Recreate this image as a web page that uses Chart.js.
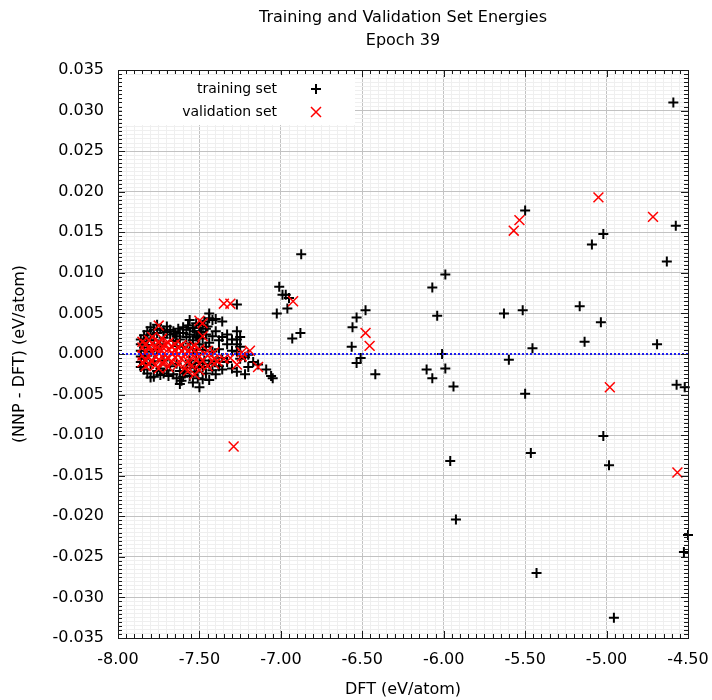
<!DOCTYPE html>
<html>
<head>
<meta charset="utf-8">
<script src="https://cdn.jsdelivr.net/npm/chart.js@4/dist/chart.umd.min.js"></script>
<style>
  html, body { margin: 0; padding: 0; background: #fff; }
  #wrap { width: 712px; height: 700px; position: relative; }
</style>
</head>
<body>
<div id="wrap"><canvas id="chart"></canvas></div>
<script>
// DFT energy vs. NNP error, both eV/atom
const trainOutliers = [
  [-4.59, 0.0310], [-5.50, 0.0177], [-4.575, 0.0158], [-5.02, 0.0148], [-5.09, 0.0135],
  [-4.63, 0.0114], [-5.99, 0.0098], [-6.07, 0.0082], [-6.04, 0.0047], [-5.63, 0.0050],
  [-5.515, 0.0054], [-5.165, 0.0059], [-5.035, 0.0039], [-5.455, 0.0007], [-5.135, 0.0015],
  [-4.69, 0.0012], [-6.01, 0.0000], [-6.105, -0.0019], [-5.99, -0.0018], [-6.07, -0.0030],
  [-5.60, -0.0007], [-5.94, -0.0040], [-5.50, -0.0049], [-4.57, -0.0038], [-4.52, -0.0041],
  [-5.02, -0.0101], [-5.465, -0.0122], [-5.96, -0.0132], [-4.985, -0.0137], [-5.925, -0.0204],
  [-4.50, -0.0223], [-4.525, -0.0244], [-5.43, -0.0270], [-4.955, -0.0325],
  [-6.875, 0.0123], [-7.01, 0.0083], [-6.99, 0.0073], [-6.97, 0.0073], [-6.95, 0.0069],
  [-6.96, 0.0056], [-7.025, 0.0050], [-6.88, 0.0026], [-6.93, 0.0019],
  [-6.48, 0.0054], [-6.535, 0.0045], [-6.56, 0.0033], [-6.565, 0.0009], [-6.51, -0.0005],
  [-6.535, -0.0011], [-6.42, -0.0025]
];

const trainCluster = [
  [-7.86, 0.0012], [-7.86, 0.0004], [-7.86, -0.0003], [-7.86, -0.0010], [-7.86, 0.0018], [-7.86, -0.0016],
  [-7.84, 0.0023], [-7.84, 0.0008], [-7.84, -0.0006], [-7.84, -0.0019], [-7.84, 0.0015], [-7.84, -0.0012],
  [-7.82, 0.0028], [-7.82, 0.0011], [-7.82, -0.0002], [-7.82, -0.0024], [-7.82, 0.0019],
  [-7.80, 0.0033], [-7.80, 0.0003], [-7.80, -0.0013], [-7.80, 0.0024], [-7.80, -0.0029],
  [-7.78, 0.0030], [-7.78, -0.0028], [-7.78, 0.0017], [-7.78, -0.0009],
  [-7.76, 0.0026], [-7.76, -0.0021], [-7.76, 0.0006], [-7.76, 0.0036],
  [-7.74, 0.0031], [-7.74, -0.0018], [-7.74, 0.0012], [-7.74, -0.0026],
  [-7.72, 0.0029], [-7.72, -0.0024], [-7.72, 0.0020], [-7.72, -0.0008],
  [-7.70, 0.0027], [-7.70, -0.0020], [-7.70, 0.0034],
  [-7.68, 0.0024], [-7.68, -0.0015], [-7.68, 0.0030],
  [-7.66, 0.0028], [-7.66, -0.0025], [-7.66, 0.0016],
  [-7.64, 0.0022], [-7.64, -0.0030], [-7.64, 0.0010], [-7.64, -0.0012],
  [-7.62, 0.0026], [-7.62, -0.0037], [-7.62, 0.0018], [-7.62, -0.0021],
  [-7.60, 0.0026], [-7.60, -0.0028], [-7.60, 0.0009], [-7.60, 0.0033],
  [-7.58, 0.0021], [-7.58, -0.0017], [-7.58, 0.0030],
  [-7.56, 0.0042], [-7.56, -0.0027], [-7.56, 0.0013], [-7.56, -0.0008], [-7.56, 0.0024],
  [-7.54, 0.0017], [-7.54, -0.0035], [-7.54, 0.0006], [-7.54, 0.0032],
  [-7.52, 0.0038], [-7.52, -0.0022], [-7.52, 0.0022], [-7.52, 0.0001],
  [-7.50, 0.0028], [-7.50, -0.0041], [-7.50, 0.0012], [-7.50, -0.0011], [-7.50, 0.0035],
  [-7.48, 0.0036], [-7.48, -0.0031], [-7.48, 0.0019], [-7.48, 0.0005], [-7.48, -0.0016],
  [-7.46, 0.0031], [-7.46, -0.0024], [-7.46, 0.0009], [-7.46, 0.0024],
  [-7.44, 0.0050], [-7.44, -0.0032], [-7.44, 0.0044], [-7.44, 0.0014], [-7.44, -0.0012],
  [-7.42, 0.0042], [-7.42, 0.0022], [-7.42, -0.0020], [-7.42, 0.0003],
  [-7.40, 0.0043], [-7.40, 0.0028], [-7.40, -0.0009], [-7.40, -0.0025],
  [-7.38, 0.0017], [-7.38, -0.0015], [-7.38, 0.0006],
  [-7.36, 0.0040], [-7.36, 0.0021], [-7.36, -0.0005], [-7.36, -0.0019],
  [-7.33, 0.0024], [-7.33, 0.0012], [-7.33, -0.0010],
  [-7.30, 0.0018], [-7.30, 0.0004], [-7.30, -0.0018],
  [-7.27, 0.0061], [-7.27, 0.0028], [-7.27, 0.0018], [-7.27, 0.0012], [-7.27, 0.0003], [-7.27, -0.0022],
  [-7.25, 0.0021], [-7.25, -0.0006], [-7.25, 0.0009],
  [-7.22, -0.0025], [-7.22, -0.0004], [-7.20, -0.0016], [-7.20, -0.0001],
  [-7.17, -0.0010], [-7.14, -0.0013], [-7.09, -0.0019], [-7.06, -0.0027], [-7.05, -0.0030],
  [-7.57, 0.0035], [-7.53, 0.0028], [-7.51, 0.0020], [-7.49, 0.0027], [-7.47, 0.0040],
  [-7.55, -0.0013], [-7.51, -0.0030], [-7.47, -0.0008], [-7.63, 0.0031], [-7.59, -0.0024],
  [-7.69, -0.0027], [-7.65, 0.0025], [-7.61, -0.0033], [-7.53, -0.0017], [-7.45, 0.0034]
];

const validOutliers = [
  [-5.05, 0.0193], [-4.715, 0.0169], [-5.535, 0.0165], [-5.57, 0.0152], [-4.98, -0.0041],
  [-4.565, -0.0146], [-6.925, 0.0065], [-6.48, 0.0026], [-6.455, 0.0010], [-7.29, -0.0114],
  [-7.35, 0.0062], [-7.31, 0.0062]
];

const validCluster = [
  [-7.85, 0.0008], [-7.85, -0.0002], [-7.85, -0.0010], [-7.85, 0.0015],
  [-7.83, 0.0003], [-7.83, -0.0008], [-7.83, 0.0012], [-7.83, -0.0015],
  [-7.81, 0.0009], [-7.81, -0.0004], [-7.81, 0.0017], [-7.81, -0.0012],
  [-7.79, 0.0002], [-7.79, -0.0009], [-7.79, 0.0013], [-7.79, 0.0021],
  [-7.77, 0.0006], [-7.77, -0.0003], [-7.77, -0.0014], [-7.77, 0.0010],
  [-7.75, 0.0035], [-7.75, 0.0001], [-7.75, -0.0007], [-7.75, 0.0015], [-7.75, -0.0018],
  [-7.73, 0.0004], [-7.73, -0.0011], [-7.73, 0.0009], [-7.73, 0.0019],
  [-7.71, -0.0002], [-7.71, 0.0012], [-7.71, -0.0009],
  [-7.69, 0.0006], [-7.69, -0.0005], [-7.69, 0.0014], [-7.69, -0.0016],
  [-7.67, 0.0001], [-7.67, 0.0009], [-7.67, -0.0010],
  [-7.65, 0.0005], [-7.65, -0.0004], [-7.65, 0.0012],
  [-7.63, -0.0001], [-7.63, 0.0008], [-7.63, -0.0013],
  [-7.61, 0.0004], [-7.61, -0.0006], [-7.61, 0.0011],
  [-7.59, 0.0000], [-7.59, -0.0018], [-7.59, 0.0007],
  [-7.57, -0.0021], [-7.57, 0.0003], [-7.57, -0.0009],
  [-7.55, 0.0001], [-7.55, -0.0014], [-7.55, 0.0008],
  [-7.53, -0.0004], [-7.53, -0.0025], [-7.53, 0.0010],
  [-7.50, 0.0041], [-7.50, -0.0003], [-7.50, -0.0012], [-7.50, 0.0006], [-7.50, -0.0020],
  [-7.48, 0.0038], [-7.48, 0.0022], [-7.48, -0.0008],
  [-7.45, -0.0002], [-7.45, -0.0015], [-7.45, 0.0004],
  [-7.41, -0.0006], [-7.41, -0.0012], [-7.41, 0.0002], [-7.39, -0.0009],
  [-7.35, -0.0006], [-7.31, -0.0005], [-7.27, -0.0013],
  [-7.24, -0.0003], [-7.24, 0.0002], [-7.19, 0.0004], [-7.14, -0.0016]
];

const zeroLine = [[-8, 0], [-4.5, 0]];

const xMajor = 0.5, xMinor = 0.05;
const yMajor = 0.005, yMinor = 0.0005;
const FONT = '"DejaVu Sans", sans-serif';

function isMajor(v, step) {
  const r = v / step;
  return Math.abs(r - Math.round(r)) < 1e-6;
}
const toXY = arr => arr.map(p => ({x: p[0], y: p[1]}));

// gnuplot-ish frame: inward ticks on all four sides, titles, key box
const gnuFrame = {
  id: 'gnuFrame',
  afterDraw(chart) {
    const {ctx, chartArea: a, scales} = chart;
    ctx.save();
    ctx.strokeStyle = '#1a1a1a';
    ctx.lineWidth = 1;
    ctx.beginPath();
    scales.x.ticks.forEach(t => {
      const px = Math.round(scales.x.getPixelForValue(t.value)) + 0.5;
      const len = isMajor(t.value, xMajor) ? 7 : 4;
      ctx.moveTo(px, a.bottom); ctx.lineTo(px, a.bottom - len);
      ctx.moveTo(px, a.top); ctx.lineTo(px, a.top + len);
    });
    scales.y.ticks.forEach(t => {
      const py = Math.round(scales.y.getPixelForValue(t.value)) + 0.5;
      const len = isMajor(t.value, yMajor) ? 7 : 4;
      ctx.moveTo(a.left, py); ctx.lineTo(a.left + len, py);
      ctx.moveTo(a.right, py); ctx.lineTo(a.right - len, py);
    });
    ctx.stroke();
    ctx.strokeRect(Math.round(a.left) + 0.5, Math.round(a.top) + 0.5,
      Math.round(a.right - a.left), Math.round(a.bottom - a.top));

    // title
    const cx = (a.left + a.right) / 2;
    ctx.fillStyle = '#000';
    ctx.font = '16px ' + FONT;
    ctx.textAlign = 'center';
    ctx.textBaseline = 'middle';
    ctx.fillText('Training and Validation Set Energies', cx, 18);
    ctx.fillText('Epoch 39', cx, 41);

    // key
    ctx.fillStyle = '#fff';
    ctx.fillRect(a.left + 4, a.top + 5, 233, 50);
    ctx.fillStyle = '#000';
    ctx.font = '14px ' + FONT;
    ctx.textAlign = 'right';
    ctx.fillText('training set', a.left + 159, a.top + 19);
    ctx.fillText('validation set', a.left + 159, a.top + 42);
    const mx = a.left + 198;
    ctx.lineWidth = 2;
    ctx.strokeStyle = '#000';
    ctx.beginPath();
    ctx.moveTo(mx - 5, a.top + 19); ctx.lineTo(mx + 5, a.top + 19);
    ctx.moveTo(mx, a.top + 14); ctx.lineTo(mx, a.top + 24);
    ctx.stroke();
    ctx.lineWidth = 1.5;
    ctx.strokeStyle = '#ff0000';
    ctx.beginPath();
    ctx.moveTo(mx - 5, a.top + 37); ctx.lineTo(mx + 5, a.top + 47);
    ctx.moveTo(mx + 5, a.top + 37); ctx.lineTo(mx - 5, a.top + 47);
    ctx.stroke();
    ctx.restore();
  }
};

Chart.defaults.font.family = FONT;
Chart.defaults.color = '#000';

new Chart(document.getElementById('chart'), {
  type: 'scatter',
  data: {
    datasets: [
      {
        type: 'line',
        data: toXY(zeroLine),
        borderColor: 'rgb(30,30,240)',
        borderWidth: 2,
        borderDash: [2, 2],
        pointRadius: 0,
        order: 0
      },
      {
        label: 'validation set',
        data: toXY(validOutliers.concat(validCluster)),
        pointStyle: 'crossRot',
        pointRadius: 7,
        borderColor: '#ff0000',
        borderWidth: 1.5,
        clip: false,
        order: 1
      },
      {
        label: 'training set',
        data: toXY(trainOutliers.concat(trainCluster)),
        pointStyle: 'cross',
        pointRadius: 5,
        borderColor: '#000',
        borderWidth: 2,
        clip: false,
        order: 2
      }
    ]
  },
  options: {
    responsive: true,
    maintainAspectRatio: false,
    animation: false,
    layout: { padding: { left: 0, top: 70, right: 24, bottom: 0 } },
    plugins: {
      legend: { display: false },
      title: { display: false },
      tooltip: { enabled: false }
    },
    scales: {
      x: {
        type: 'linear',
        min: -8,
        max: -4.5,
        afterFit: s => { s.height = 62; s.paddingLeft = 0; s.paddingRight = 0; },
        border: { display: false },
        grid: {
          drawTicks: false,
          color: c => isMajor(c.tick.value, xMajor) ? '#c2c2c2' : '#efefef'
        },
        ticks: {
          stepSize: xMinor,
          autoSkip: false,
          maxRotation: 0,
          padding: 12,
          font: { size: 16 },
          callback: v => isMajor(v, xMajor) ? v.toFixed(2) : ''
        },
        title: {
          display: true,
          text: 'DFT (eV/atom)',
          font: { size: 16 },
          padding: { top: 0, bottom: 1 }
        }
      },
      y: {
        min: -0.035,
        max: 0.035,
        afterFit: s => { s.width = 118; s.paddingTop = 0; s.paddingBottom = 0; },
        border: { display: false },
        grid: {
          drawTicks: false,
          color: c => isMajor(c.tick.value, yMajor) ? '#c2c2c2' : '#efefef'
        },
        ticks: {
          stepSize: yMinor,
          autoSkip: false,
          padding: 14,
          font: { size: 16 },
          callback: v => isMajor(v, yMajor) ? v.toFixed(3) : ''
        },
        title: {
          display: true,
          text: '(NNP - DFT) (eV/atom)',
          font: { size: 16 },
          padding: { top: 10, bottom: 0 }
        }
      }
    }
  },
  plugins: [gnuFrame]
});
</script>
</body>
</html>
